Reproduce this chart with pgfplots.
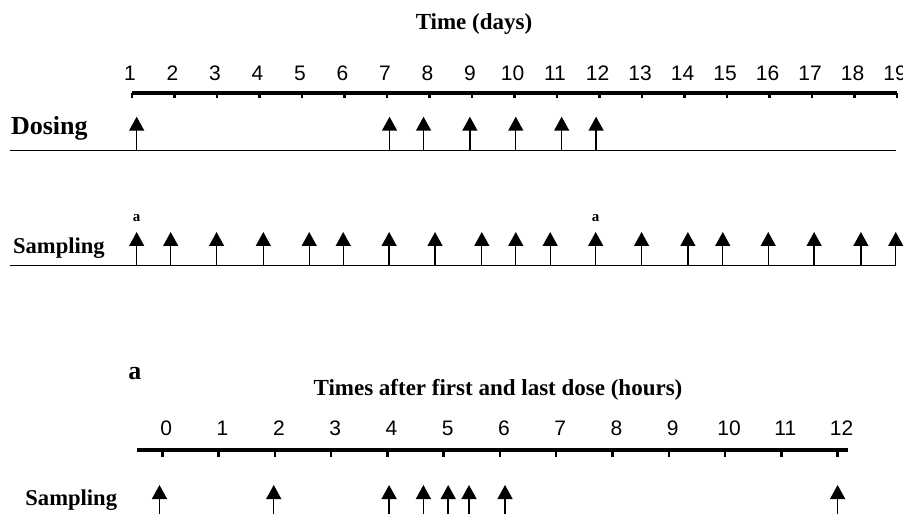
\documentclass[border=0pt]{standalone}
\usepackage{pgfplots}
\pgfplotsset{compat=1.18}
\usetikzlibrary{arrows.meta}
\usepackage{fontspec}
\setmainfont{Liberation Serif}
\newfontfamily\arialfont{Liberation Sans}

% Dosing and sampling schedule (days), and the intensive sampling (hours)
% after the first and the last dose.
\pgfplotstableread{
day  base  v
1.11 363.5 33.8
7.06 363.5 33.8
7.86 363.5 33.8
8.95 363.5 33.8
10.03 363.5 33.8
11.11 363.5 33.8
11.92 363.5 33.8
}\dosing
\pgfplotstableread{
day  base  v
1.11 248.3 33.7
1.91 248.3 33.7
2.99 248.3 33.7
4.09 248.3 33.7
5.17 248.3 33.7
5.97 248.3 33.7
7.05 248.3 33.7
8.13 248.3 33.7
9.23 248.3 33.7
10.03 248.3 33.7
10.84 248.3 33.7
11.91 248.3 33.7
12.99 248.3 33.7
14.08 248.3 33.7
14.90 248.3 33.7
15.97 248.3 33.7
17.05 248.3 33.7
18.15 248.3 33.7
18.97 248.3 33.7
}\sampling
\pgfplotstableread{
hour base v
-0.05 0 29
1.98 0 29
4.03 0 29
4.64 0 29
5.08 0 29
5.45 0 29
6.09 0 29
12.00 0 29
}\hourly

\tikzset{
  event/.style={black, line width=0.7pt, -{Triangle[width=7.5pt,length=7pt]}},
  lab/.style={font=\bfseries, inner sep=0pt},
}

\begin{document}
\begin{tikzpicture}
\path[use as bounding box] (0,0) rectangle (451.5pt,257pt);

% ---- days ----
\begin{axis}[
  at={(66pt,120pt)}, anchor=south west,
  scale only axis, width=382.5pt, height=90.5pt,
  xmin=1, xmax=19, ymin=240, ymax=421,
  axis x line*=top, axis y line=none,
  xtick={1,...,19}, xtick align=inside,
  major tick length=2.75pt,
  major tick style={black, line width=1.25pt},
  x axis line style={black, line width=1.75pt},
  xticklabel style={font=\arialfont\fontsize{10.5}{12}\selectfont, anchor=base, xshift=-1pt, yshift=6.2pt},
  /pgf/number format/assume math mode=true,
  clip=false,
]
\addplot[black, line width=0.65pt, no marks] coordinates {(-1.87,363.5) (18.97,363.5)};
\addplot[black, line width=0.65pt, no marks] coordinates {(-1.87,248.3) (18.97,248.3)};
\addplot[event, no marks, quiver={u=0, v=\thisrow{v}}] table[x=day, y=base] {\dosing};
\addplot[event, no marks, quiver={u=0, v=\thisrow{v}}] table[x=day, y=base] {\sampling};
\node[lab, anchor=base west, font=\bfseries\fontsize{13}{15}\selectfont] at (axis cs:-1.854,379) {Dosing};
\node[lab, anchor=base west, font=\bfseries\fontsize{11.3}{13}\selectfont] at (axis cs:-1.807,260.7) {Sampling};
\node[lab, anchor=base, font=\bfseries\fontsize{11.5}{13}\selectfont] at (axis cs:9.047,484) {Time (days)};
\node[lab, anchor=base, font=\bfseries\fontsize{7.5}{9}\selectfont] at (axis cs:1.11,292.5) {a};
\node[lab, anchor=base, font=\bfseries\fontsize{7.5}{9}\selectfont] at (axis cs:11.91,292.5) {a};
\end{axis}

% ---- hours ----
\begin{axis}[
  at={(68.35pt,0pt)}, anchor=south west,
  scale only axis, width=355.8pt, height=32pt,
  xmin=-0.455, xmax=12.19, ymin=0, ymax=64,
  axis x line*=top, axis y line=none,
  xtick={0,...,12}, xtick align=inside,
  major tick length=3.3pt,
  major tick style={black, line width=1.25pt},
  x axis line style={black, line width=2pt},
  xticklabel style={font=\arialfont\fontsize{10.5}{12}\selectfont, anchor=base, xshift=2pt, yshift=7pt},
  /pgf/number format/assume math mode=true,
  clip=false,
]
\addplot[event, no marks, quiver={u=0, v=\thisrow{v}}] table[x=hour, y=base] {\hourly};
\node[lab, anchor=base west, font=\bfseries\fontsize{11.3}{13}\selectfont] at (axis cs:-2.44,9) {Sampling};
\node[lab, anchor=base west, font=\bfseries\fontsize{13}{15}\selectfont] at (axis cs:-0.61,134) {a};
\node[lab, anchor=base, font=\bfseries\fontsize{11.5}{13}\selectfont] at (axis cs:5.965,118.3) {Times after first and last dose (hours)};
\end{axis}
\end{tikzpicture}
\end{document}
